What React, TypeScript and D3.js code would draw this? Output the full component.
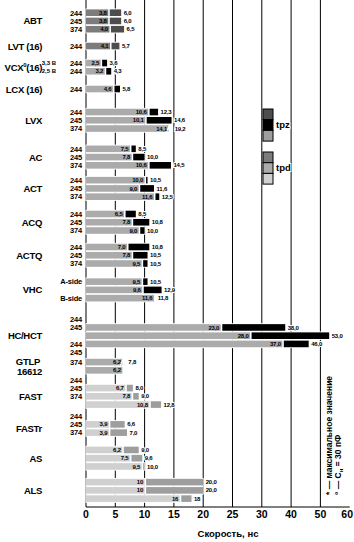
import React from 'react';
import * as d3 from 'd3';

// logic families, top to bottom
const groupNames = ['ABT', 'LVT (16)', 'VCX', 'LCX (16)', 'LVX', 'AC', 'ACT', 'ACQ', 'ACTQ', 'VHC', 'HC/HCT', 'GTLP', 'FAST', 'FASTr', 'AS', 'ALS'];
const groupSubtitle = ['', '', '', '', '', '', '', '', '', '', '', '16612', '', '', '', ''];

// row tags per slot ('' = none)
const rowTags = [
  ['244', '245', '374'],
  ['244'],
  ['244', '244'],
  ['244'],
  ['244', '245', '374'],
  ['244', '245', '374'],
  ['244', '245', '374'],
  ['244', '245', '374'],
  ['244', '245', '374'],
  ['A-side', '', 'B-side'],
  ['244', '245', '', '244', '245'],
  ['374', ''],
  ['244', '245', '374', ''],
  ['244', '245', '374'],
  ['', '', ''],
  ['', '', ''],
];
const vcxSupply = ['3,3 В', '2,5 В'];

// typical delay per slot, ns ('' = no bar)
const tpdValues = [
  ['3,8', '3,8', '4,0'],
  ['4,1'],
  ['2,5', '3,2'],
  ['4,6'],
  ['10,6', '10,1', '14,1'],
  ['7,5', '7,8', '10,6'],
  ['10,0', '9,0', '11,6'],
  ['6,5', '7,8', '9,0'],
  ['7,0', '7,8', '9,5'],
  ['9,5', '9,6', '11,6'],
  ['', '23,0', '28,0', '37,0', ''],
  ['6,2', '6,2'],
  ['', '6,7', '7,8', '10,8'],
  ['', '3,9', '3,9'],
  ['6,2', '7,5', '9,5'],
  ['10', '10', '16'],
];
// maximum delay per slot, ns
const tpzValues = [
  ['6,0', '6,0', '6,5'],
  ['5,7'],
  ['3,6', '4,3'],
  ['5,8'],
  ['12,3', '14,6', '19,2'],
  ['8,5', '10,0', '14,5'],
  ['10,5', '11,6', '12,5'],
  ['8,5', '10,8', '10,0'],
  ['10,8', '10,5', '10,5'],
  ['10,5', '12,9', '11,8'],
  ['', '38,0', '53,0', '46,0', ''],
  ['7,8', ''],
  ['', '8,0', '9,0', '12,8'],
  ['', '6,6', '7,0'],
  ['9,0', '9,6', '10,0'],
  ['20,0', '20,0', '18'],
];
// rows where the max bar is cut off (only label shown)
const brokenRows = ['LVX:2', 'GTLP:0'];

const shadeFamily = [0, 0, 1, 1, 1, 1, 1, 1, 1, 1, 1, 1, 2, 2, 2, 2];
const tpdShade = ['#7c7c7c', '#ababab', '#d0d0d0'];
const tpzShade = ['#4d4d4d', '#000000', '#9e9e9e'];

const xTicks = [0, 5, 10, 15, 20, 25, 30, 40, 50, 60];

// spacing between groups, in row units
const groupGap = [1.04, 1.06, 1.15, 1.79, 1.46, 0.8, 1.1, 1.0, 1.2, 1.55, 0.2, 0.15, 0.4, 1.1, 0.9];

const num = (s: string) => +s.replace(',', '.');
const FONT = '"Liberation Sans", Arial, sans-serif';

export default function App() {
  const width = 354;
  const height = 542;
  const axisY = 507;

  const x = d3.scaleLinear().domain(xTicks).range(xTicks.map((_, i) => 86 + i * 29.3));
  const slotY = d3.scaleLinear().domain([0, 1]).range([12.7, 20.95]);
  const barH = 6.6;

  // start slot for each group
  const starts: number[] = [];
  groupNames.forEach((_, i) => {
    starts.push(i === 0 ? 0 : starts[i - 1] + rowTags[i - 1].length + groupGap[i - 1]);
  });

  return (
    <svg width={width} height={height} style={{ position: 'absolute', left: 0, top: 0, background: '#fff' }} fontFamily={FONT} fontWeight="bold">
      {/* grid */}
      {xTicks.slice(0, -1).map(t => (
        <line key={t} x1={x(t)} x2={x(t)} y1={0} y2={axisY} stroke="#000" strokeWidth={1} />
      ))}
      <line x1={x(0)} x2={x(60)} y1={axisY} y2={axisY} stroke="#000" strokeWidth={1.2} />
      {xTicks.map((t, i) => (
        <text key={t} x={i === xTicks.length - 1 ? width - 1 : x(t)} y={axisY + 11} fontSize={10.5}
          textAnchor={i === xTicks.length - 1 ? 'end' : 'middle'}>{t}</text>
      ))}
      <text x={228} y={537} fontSize={9.5} textAnchor="middle">Скорость, нс</text>

      {groupNames.map((name, gi) => {
        const fam = shadeFamily[gi];
        const barSlots = tpdValues[gi].map((v, si) => (v ? si : -1)).filter(si => si >= 0);
        const labelY = d3.mean(barSlots, si => slotY(starts[gi] + si)) as number;
        return (
          <g key={name}>
            {name === 'VCX' ? (
              <text x={42} y={labelY + 3.5} fontSize={9.5} textAnchor="end" letterSpacing={-0.3}>
                VCX<tspan fontSize={6} dy={-4}>0</tspan><tspan dy={4}>(16)</tspan>
              </text>
            ) : groupSubtitle[gi] ? (
              <text x={40} y={labelY - 1} fontSize={9.5} textAnchor="end" letterSpacing={-0.3}>
                {name}
                <tspan x={42} dy={10}>{groupSubtitle[gi]}</tspan>
              </text>
            ) : (
              <text x={42} y={labelY + 3.5} fontSize={9.5} textAnchor="end" letterSpacing={-0.3}>{name}</text>
            )}
            {name === 'VCX' && vcxSupply.map((s, si) => (
              <text key={s} x={56} y={slotY(starts[gi] + si) + 2.2} fontSize={6} textAnchor="end">{s}</text>
            ))}
            {rowTags[gi].map((tag, si) => (
              tag ? <text key={'t' + si} x={82} y={slotY(starts[gi] + si) + 2.8} fontSize={7.5} textAnchor="end" letterSpacing={-0.2}>{tag}</text> : null
            ))}
            {tpdValues[gi].map((lo, si) => {
              if (!lo) return null;
              const hi = tpzValues[gi][si];
              const yc = slotY(starts[gi] + si);
              const x0 = x(0);
              const xl = x(num(lo));
              const broken = brokenRows.includes(name + ':' + si);
              const xh = hi ? x(num(hi)) : xl;
              const ext = broken ? xl : Math.max(xl, xh);
              return (
                <g key={'b' + si}>
                  <rect x={x0 - 0.5} y={yc - 4.2} width={ext - x0 + 1} height={8.4} fill="#fff" />
                  <rect x={x0} y={yc - barH / 2} width={xl - x0} height={barH} fill={tpdShade[fam]} />
                  {hi && !broken && xh - xl > 1.5 && (
                    <rect x={xl + 1.5} y={yc - barH / 2} width={xh - xl - 1.5} height={barH} fill={tpzShade[fam]} />
                  )}
                  {broken && (
                    <line x1={xl - 2} y1={yc + barH / 2} x2={xl + 1} y2={yc - barH / 2} stroke="#fff" strokeWidth={1.5} />
                  )}
                  <text x={xl - 1.5} y={yc + 2.1} fontSize={6} textAnchor="end" letterSpacing={-0.2}>{lo}</text>
                  {hi && (
                    <text x={(broken ? xl + 6 : xh + 2.5)} y={yc + 2.1} fontSize={6} letterSpacing={-0.2}
                      stroke="#fff" strokeWidth={2} paintOrder="stroke">{hi}</text>
                  )}
                </g>
              );
            })}
          </g>
        );
      })}

      {/* legend */}
      {[['tpz', tpzShade, 109], ['tpd', tpdShade, 152]].map(([lab, shades, top]: any) => (
        <g key={lab}>
          {shades.map((c: string, i: number) => (
            <rect key={c} x={263} y={top + i * 10.7} width={10} height={10.7} fill={c} stroke="#000" strokeWidth={1} />
          ))}
          <text x={276} y={top + 19} fontSize={9.5} stroke="#fff" strokeWidth={2} paintOrder="stroke">{lab}</text>
        </g>
      ))}

      {/* notes */}
      <text transform="translate(332,495) rotate(-90)" fontSize={8.5} stroke="#fff" strokeWidth={2} paintOrder="stroke">* — максимальное значение</text>
      <text transform="translate(341,495) rotate(-90)" fontSize={8.5} stroke="#fff" strokeWidth={2} paintOrder="stroke">
        ° — C<tspan fontSize={6} dy={2}>н</tspan><tspan dy={-2}> = 30 пФ</tspan>
      </text>
    </svg>
  );
}
